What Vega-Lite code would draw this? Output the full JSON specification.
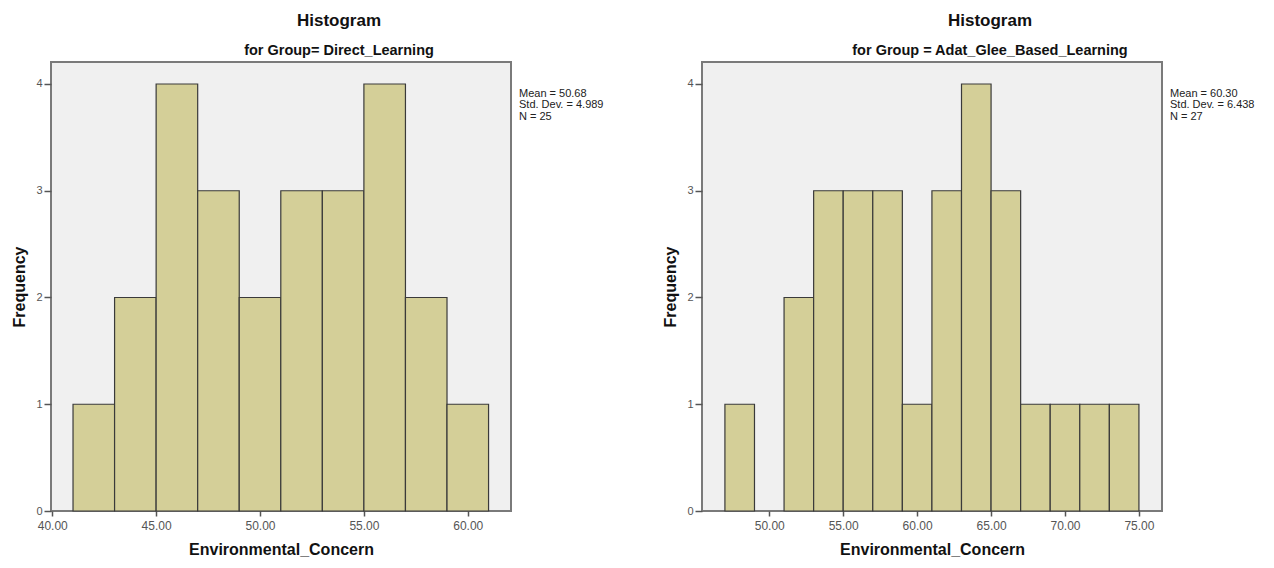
{
  "$schema": "https://vega.github.io/schema/vega-lite/v6.json",
  "background": "white",
  "padding": {"left": 10, "top": 10, "right": 5, "bottom": 5},
  "bounds": "flush",
  "spacing": 191,
  "config": {
    "font": "Liberation Sans",
    "view": {"stroke": "#7a7a7a", "strokeWidth": 2, "fill": "#f0f0f0"},
    "axis": {
      "grid": false,
      "domain": false,
      "tickColor": "#555555",
      "tickWidth": 1.5,
      "labelColor": "#555555",
      "labelFont": "Liberation Sans",
      "titleColor": "#111111",
      "titleFont": "Liberation Sans",
      "titleFontWeight": "bold",
      "titleFontSize": 16
    },
    "axisX": {"tickSize": 5, "labelFontSize": 12, "labelPadding": 4, "titlePadding": 10, "format": ".2f"},
    "axisY": {"tickSize": 7, "labelFontSize": 11, "labelPadding": 2, "titlePadding": 8, "format": "d"},
    "title": {
      "fontSize": 17,
      "fontWeight": "bold",
      "color": "#111111",
      "subtitleFontSize": 14.5,
      "subtitleFontWeight": "bold",
      "subtitleColor": "#111111",
      "subtitleFont": "Liberation Sans",
      "anchor": "middle",
      "offset": 4,
      "subtitlePadding": 14,
      "dx": 58
    }
  },
  "hconcat": [
    {
      "width": 460,
      "height": 449,
      "title": {"text": "Histogram", "subtitle": "for Group= Direct_Learning"},
      "layer": [
        {
          "data": {"values": [
            {"bin_start": 41, "bin_end": 43, "count": 1},
            {"bin_start": 43, "bin_end": 45, "count": 2},
            {"bin_start": 45, "bin_end": 47, "count": 4},
            {"bin_start": 47, "bin_end": 49, "count": 3},
            {"bin_start": 49, "bin_end": 51, "count": 2},
            {"bin_start": 51, "bin_end": 53, "count": 3},
            {"bin_start": 53, "bin_end": 55, "count": 3},
            {"bin_start": 55, "bin_end": 57, "count": 4},
            {"bin_start": 57, "bin_end": 59, "count": 2},
            {"bin_start": 59, "bin_end": 61, "count": 1}
          ]},
          "mark": {"type": "rect", "fill": "#d4cf98", "stroke": "#3a3a3a", "strokeWidth": 1.2},
          "encoding": {
            "x": {"field": "bin_start", "type": "quantitative",
                  "scale": {"domain": [39.94, 62.08], "nice": false, "zero": false},
                  "axis": {"values": [40, 45, 50, 55, 60], "title": "Environmental_Concern"}},
            "x2": {"field": "bin_end"},
            "y": {"field": "count", "type": "quantitative",
                  "scale": {"domain": [0, 4.206], "nice": false},
                  "axis": {"values": [0, 1, 2, 3, 4], "title": "Frequency"}}
          }
        },
        {
          "data": {"values": [{"label": "Mean = 50.68\nStd. Dev. = 4.989\nN = 25"}]},
          "mark": {"type": "text", "align": "left", "baseline": "top", "lineBreak": "\n", "fontSize": 11, "lineHeight": 11.5, "dx": 8, "dy": 4, "color": "#222222"},
          "encoding": {
            "x": {"value": "width"},
            "y": {"datum": 4, "type": "quantitative"},
            "text": {"field": "label"}
          }
        }
      ]
    },
    {
      "width": 460,
      "height": 449,
      "title": {"text": "Histogram", "subtitle": "for Group = Adat_Glee_Based_Learning"},
      "layer": [
        {
          "data": {"values": [
            {"bin_start": 47, "bin_end": 49, "count": 1},
            {"bin_start": 51, "bin_end": 53, "count": 2},
            {"bin_start": 53, "bin_end": 55, "count": 3},
            {"bin_start": 55, "bin_end": 57, "count": 3},
            {"bin_start": 57, "bin_end": 59, "count": 3},
            {"bin_start": 59, "bin_end": 61, "count": 1},
            {"bin_start": 61, "bin_end": 63, "count": 3},
            {"bin_start": 63, "bin_end": 65, "count": 4},
            {"bin_start": 65, "bin_end": 67, "count": 3},
            {"bin_start": 67, "bin_end": 69, "count": 1},
            {"bin_start": 69, "bin_end": 71, "count": 1},
            {"bin_start": 71, "bin_end": 73, "count": 1},
            {"bin_start": 73, "bin_end": 75, "count": 1}
          ]},
          "mark": {"type": "rect", "fill": "#d4cf98", "stroke": "#3a3a3a", "strokeWidth": 1.2},
          "encoding": {
            "x": {"field": "bin_start", "type": "quantitative",
                  "scale": {"domain": [45.45, 76.56], "nice": false, "zero": false},
                  "axis": {"values": [50, 55, 60, 65, 70, 75], "title": "Environmental_Concern"}},
            "x2": {"field": "bin_end"},
            "y": {"field": "count", "type": "quantitative",
                  "scale": {"domain": [0, 4.206], "nice": false},
                  "axis": {"values": [0, 1, 2, 3, 4], "title": "Frequency"}}
          }
        },
        {
          "data": {"values": [{"label": "Mean = 60.30\nStd. Dev. = 6.438\nN = 27"}]},
          "mark": {"type": "text", "align": "left", "baseline": "top", "lineBreak": "\n", "fontSize": 11, "lineHeight": 11.5, "dx": 8, "dy": 4, "color": "#222222"},
          "encoding": {
            "x": {"value": "width"},
            "y": {"datum": 4, "type": "quantitative"},
            "text": {"field": "label"}
          }
        }
      ]
    }
  ]
}
